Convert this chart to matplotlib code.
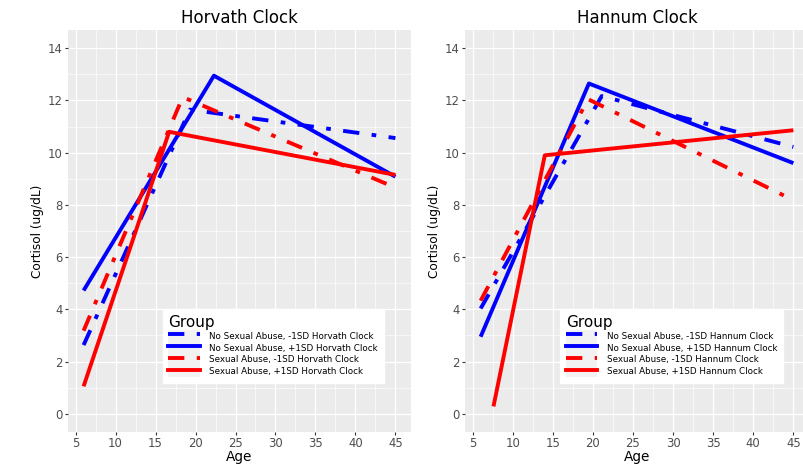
import matplotlib.pyplot as plt
from matplotlib.ticker import MultipleLocator
from matplotlib.lines import Line2D
from matplotlib.patches import Patch

# values (age, cortisol) for each group
groups = ['No Sexual Abuse, -1SD', 'No Sexual Abuse, +1SD', 'Sexual Abuse, -1SD', 'Sexual Abuse, +1SD']
age_ticks = [5, 10, 15, 20, 25, 30, 35, 40, 45]
cort_ticks = [0, 2, 4, 6, 8, 10, 12, 14]

horvath_age = [[6, 19.3, 45], [6, 22.3, 45], [6, 18.4, 45], [6, 16.7, 45]]
horvath_cort = [[2.63, 11.65, 10.56], [4.72, 12.95, 9.08], [3.18, 12.13, 8.66], [1.05, 10.8, 9.15]]

hannum_age = [[6, 21.1, 45], [6, 19.5, 45], [6, 19.4, 45], [7.6, 14.0, 45]]
hannum_cort = [[4.03, 12.17, 10.22], [2.95, 12.65, 9.6], [4.33, 12.05, 8.18], [0.28, 9.9, 10.86]]

colors = ['blue', 'blue', 'red', 'red']
dashed = [True, False, True, False]
dashdot = (0, (4.2, 3.2, 1.2, 3.2))

fig = plt.figure(figsize=(8.04, 4.66), dpi=100)
ax1 = fig.add_axes([68/804, 34/466, 343/804, 402/466])
ax2 = fig.add_axes([465/804, 34/466, 344/804, 402/466])


def draw_panel(ax, ages, cort, clock):
    ax.set_facecolor('#EBEBEB')
    for s in ax.spines.values():
        s.set_visible(False)
    for i in range(len(groups)):
        ls = dashdot if dashed[i] else '-'
        ax.plot(ages[i], cort[i], color=colors[i], lw=2.8, linestyle=ls,
                solid_capstyle='butt', dash_capstyle='butt')
    ax.set_xlim(4.05, 46.95)
    ax.set_ylim(-0.7, 14.7)
    ax.set_xticks(age_ticks)
    ax.set_yticks(cort_ticks)
    ax.xaxis.set_minor_locator(MultipleLocator(2.5))
    ax.yaxis.set_minor_locator(MultipleLocator(1))
    ax.grid(which='major', color='white', lw=0.9)
    ax.grid(which='minor', color='white', lw=0.45)
    ax.set_axisbelow(True)
    ax.tick_params(which='major', length=2.5, width=0.8, color='#333333',
                   labelcolor='#4D4D4D', labelsize=8.4, pad=1.2)
    ax.tick_params(which='minor', length=0)
    ax.set_title(clock + ' Clock', fontsize=12, pad=5)
    ax.set_xlabel('Age', fontsize=9.8, labelpad=0)
    ax.set_ylabel('Cortisol (ug/dL)', fontsize=8.7, labelpad=3)

    handles = []
    for i in range(len(groups)):
        ls = dashdot if dashed[i] else '-'
        handles.append((Patch(fc='#F2F2F2', ec='none'),
                        Line2D([], [], color=colors[i], lw=2.8, linestyle=ls)))
    labels = [g + ' ' + clock + ' Clock' for g in groups]
    ax.legend(handles, labels, title='Group', loc='upper left', bbox_to_anchor=(0.276, 0.305),
              fancybox=False, framealpha=1, edgecolor='white', facecolor='white',
              fontsize=6.3, title_fontsize=11, alignment='left',
              handlelength=3.6, handleheight=1.7, labelspacing=0, handletextpad=1.1,
              borderpad=0.65, borderaxespad=0)


draw_panel(ax1, horvath_age, horvath_cort, 'Horvath')
draw_panel(ax2, hannum_age, hannum_cort, 'Hannum')

fig.savefig('out.png', dpi=100)
